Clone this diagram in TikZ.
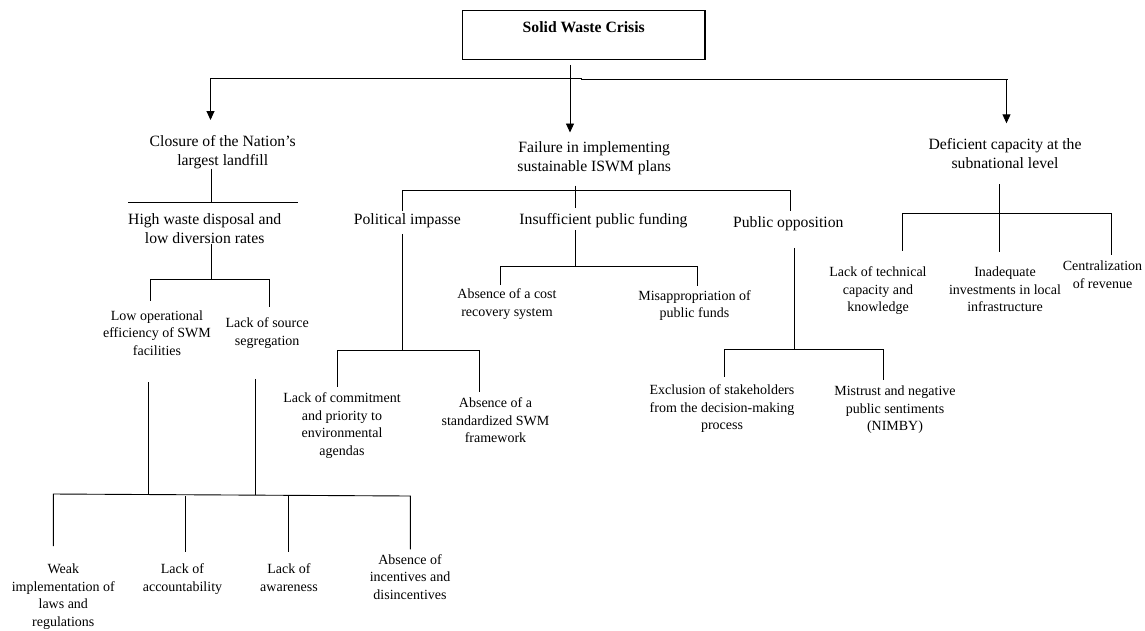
\documentclass[tikz,border=0pt]{standalone}
\usepackage{fontspec}
\setmainfont{Liberation Serif}
\usetikzlibrary{arrows.meta}
\tikzset{
  conn/.style={line width=0.9pt, draw=black},
  arr/.style={conn, -{Triangle[length=9pt,width=8pt]}},
  big/.style={font=\fontsize{15.7}{19}\selectfont, align=center, inner sep=0pt, anchor=north},
  small/.style={font=\fontsize{14}{17.5}\selectfont, align=center, inner sep=0pt, anchor=north},
  rootbox/.style={draw, line width=1.5pt, minimum width=242.5pt, minimum height=48.6pt,
    inner sep=0pt, text height=11pt, text depth=16pt,
    font=\fontsize{15.7}{19}\selectfont\bfseries}
}
\begin{document}
\begin{tikzpicture}[x=1pt,y=-1pt]
\fill[white] (0,0) rectangle (1145,630);
\useasboundingbox (0,0) rectangle (1145,630);

% nodes
\node[rootbox] (root) at (583.75,35) {Solid Waste Crisis};
\node[big] (clo) at (222.7,134.8) {Closure of the Nation’s\\largest landfill};
\node[big] (fail) at (594.2,141.3) {Failure in implementing\\sustainable ISWM plans};
\node[big] (def) at (1005,137.8) {Deficient capacity at the\\subnational level};
\node[big] (hw) at (204.7,213.5) {High waste disposal and\\low diversion rates};
\node[small] (lowop) at (157,310.3) {Low operational\\efficiency of SWM\\facilities};
\node[small] (lsrc) at (267.2,317.6) {Lack of source\\segregation};
\node[small] (weak) at (63.3,563.6) {Weak\\implementation of\\laws and\\regulations};
\node[small] (acc) at (182.5,563.6) {Lack of\\accountability};
\node[small] (awa) at (289,563.6) {Lack of\\awareness};
\node[small] (inc) at (410,554.3) {Absence of\\incentives and\\disincentives};
\node[big] (pol) at (407.3,213.5) {Political impasse};
\node[big] (insuf) at (603.5,213.5) {Insufficient public funding};
\node[big] (pub) at (788.3,216.8) {Public opposition};
\node[small] (commit) at (342,392.6) {Lack of commitment\\and priority to\\environmental\\agendas};
\node[small] (std) at (495.5,397.6) {Absence of a\\standardized SWM\\framework};
\node[small] (cost) at (507,288.6) {Absence of a cost\\recovery system};
\node[small] (misap) at (694.5,290.3) {Misappropriation of\\public funds};
\node[small] (excl) at (722,384.6) {Exclusion of stakeholders\\from the decision-making\\process};
\node[small] (mis) at (895,385.9) {Mistrust and negative\\public sentiments\\(NIMBY)};
\node[small] (tech) at (878,266.9) {Lack of technical\\capacity and\\knowledge};
\node[small] (inad) at (1005,266.9) {Inadequate\\investments in local\\infrastructure};
\node[small] (cent) at (1102.5,260.9) {Centralization\\of revenue};

% junction coordinates
\coordinate (jT) at (570,78);
\coordinate (hL) at (210.5,78);
\coordinate (hM) at (581,78);
\coordinate (hR) at (1008,79);
\coordinate (aR) at (1006.5,79);
\coordinate (jC) at (211,202);
\coordinate (jH) at (211,279);
\coordinate (bHl) at (150,279);
\coordinate (bHr) at (269.3,279);
\coordinate (bB1) at (148.7,494.5);
\coordinate (bB2) at (255.3,495);
\coordinate (bBl) at (53.3,494);
\coordinate (bBr) at (410.3,496);
\coordinate (bBa) at (185,496);
\coordinate (bBw) at (288.7,496);
\coordinate (jF) at (575,190);
\coordinate (bFl) at (402.7,190);
\coordinate (bFr) at (790,190);
\coordinate (jP) at (402.7,350.7);
\coordinate (bPl) at (337.3,350.7);
\coordinate (bPr) at (479.3,350.7);
\coordinate (jI) at (575,266.7);
\coordinate (bIl) at (500.7,266.7);
\coordinate (bIr) at (697.7,266.7);
\coordinate (jU) at (794,349.7);
\coordinate (bUl) at (724,349.7);
\coordinate (bUr) at (883.3,349.7);
\coordinate (jD) at (999,213.5);
\coordinate (bDl) at (902,213.5);
\coordinate (bDr) at (1111,213.5);

% top level
\draw[arr, shorten <=4.7pt, shorten >=8.8pt] (jT |- root.south) -- (jT |- fail.north);
\draw[conn] (hL) -- (hM) -- ++(0,1) -- (hR);
\draw[arr, shorten >=14.8pt] (hL) -- (hL |- clo.north);
\draw[arr, shorten >=14.5pt] (aR) -- (aR |- def.north);

% Closure branch
\draw[conn] (jC |- clo.south) -- (jC);
\draw[conn] ([xshift=-82.7pt]jC) -- ([xshift=86.7pt]jC);
\draw[conn] (jH |- hw.south) -- (jH);
\draw[conn, shorten <=10.9pt, shorten >=9.6pt] (bHr |- lsrc.north) -- (bHr) -- (bHl) -- (bHl |- lowop.north);
\draw[conn, shorten <=26.8pt] (bB1 |- lowop.south) -- (bB1);
\draw[conn, shorten <=30.4pt] (bB2 |- lsrc.south) -- (bB2);
\draw[conn, shorten <=17.6pt, shorten >=5pt] (bBl |- weak.north) -- (bBl) -- (bBr) -- (bBr |- inc.north);
\draw[conn, shorten >=11.9pt] (bBa) -- (bBa |- acc.north);
\draw[conn, shorten >=11.3pt] (bBw) -- (bBw |- awa.north);

% Failure branch
\draw[conn, shorten <=10.6pt, shorten >=5.5pt] (jF |- fail.south) -- (jF |- insuf.north);
\draw[conn, shorten <=2.5pt, shorten >=5.8pt] (bFl |- pol.north) -- (bFl) -- (bFr) -- (bFr |- pub.north);
\draw[conn, shorten <=5.7pt] (jP |- pol.south) -- (jP);
\draw[conn, shorten <=5.9pt, shorten >=5.9pt] (bPl |- commit.north) -- (bPl) -- (bPr) -- (bPr |- std.north);
\draw[conn, shorten <=1.7pt] (jI |- insuf.south) -- (jI);
\draw[conn, shorten <=3.6pt, shorten >=4.3pt] (bIl |- cost.north) -- (bIl) -- (bIr) -- (bIr |- misap.north);
\draw[conn, shorten <=16.4pt] (jU |- pub.south) -- (jU);
\draw[conn, shorten <=7.9pt, shorten >=5.9pt] (bUl |- excl.north) -- (bUl) -- (bUr) -- (bUr |- mis.north);

% Deficient branch
\draw[conn, shorten <=15.9pt, shorten >=15.2pt] (jD |- def.south) -- (jD |- inad.north);
\draw[conn, shorten <=16.2pt, shorten >=5.9pt] (bDl |- tech.north) -- (bDl) -- (bDr) -- (bDr |- cent.north);
\end{tikzpicture}
\end{document}
